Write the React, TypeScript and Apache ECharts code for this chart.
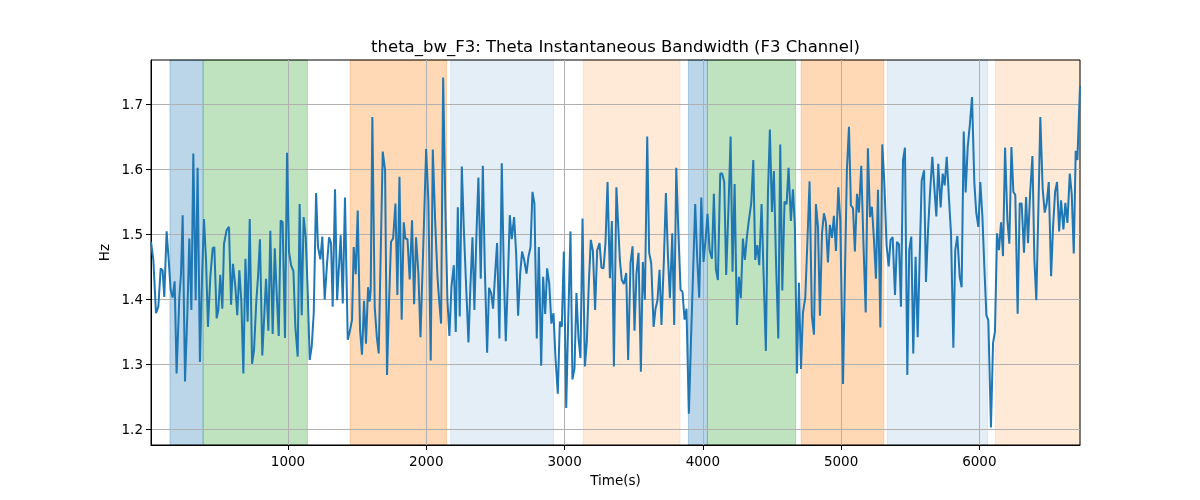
import { useEffect, useRef } from "react";
import * as echarts from "echarts";

// seconds
const times = [
  9, 26, 45, 62, 79, 93, 105, 122, 137, 151, 165, 180, 194, 214, 226, 238, 255, 272, 286, 301,
  315, 332, 346, 363, 378, 392, 407, 421, 438, 455, 467, 484, 496, 510, 525, 537, 556, 573, 588, 602,
  619, 633, 648, 662, 677, 692, 708, 723, 740, 754, 771, 783, 797, 814, 829, 841, 858, 872, 889, 904,
  918, 933, 947, 961, 978, 993, 1007, 1022, 1039, 1053, 1070, 1084, 1099, 1113, 1128, 1142, 1157, 1171, 1186, 1203,
  1217, 1234, 1248, 1265, 1282, 1297, 1311, 1323, 1340, 1355, 1381, 1396, 1412, 1432, 1449, 1463, 1475, 1490, 1504, 1521,
  1535, 1550, 1564, 1579, 1591, 1598, 1610, 1627, 1642, 1656, 1685, 1702, 1716, 1731, 1745, 1760, 1777, 1791, 1806, 1822,
  1837, 1849, 1864, 1880, 1897, 1912, 1926, 1943, 1958, 1979, 1999, 2015, 2032, 2047, 2064, 2081, 2093, 2107, 2122, 2138,
  2153, 2167, 2182, 2199, 2213, 2228, 2242, 2257, 2271, 2286, 2305, 2319, 2334, 2348, 2363, 2377, 2394, 2409, 2423, 2440,
  2454, 2469, 2483, 2498, 2512, 2529, 2546, 2561, 2575, 2590, 2604, 2618, 2635, 2650, 2664, 2679, 2693, 2708, 2725, 2739,
  2754, 2768, 2782, 2799, 2814, 2831, 2845, 2860, 2874, 2889, 2905, 2920, 2934, 2951, 2966, 2980, 2995, 3012, 3026, 3043,
  3057, 3072, 3086, 3101, 3115, 3130, 3147, 3161, 3176, 3190, 3205, 3221, 3236, 3253, 3267, 3282, 3296, 3311, 3328, 3342,
  3357, 3375, 3400, 3414, 3429, 3446, 3460, 3477, 3492, 3506, 3520, 3535, 3552, 3566, 3581, 3598, 3612, 3627, 3644, 3658,
  3672, 3687, 3701, 3718, 3733, 3747, 3762, 3779, 3793, 3808, 3822, 3839, 3853, 3868, 3882, 3899, 3916, 3931, 3945, 3960,
  3974, 3989, 4005, 4020, 4034, 4049, 4066, 4080, 4095, 4109, 4126, 4140, 4155, 4169, 4186, 4201, 4215, 4230, 4247, 4261,
  4275, 4290, 4304, 4319, 4333, 4350, 4365, 4379, 4394, 4408, 4425, 4440, 4456, 4471, 4485, 4500, 4514, 4529, 4546, 4560,
  4575, 4591, 4606, 4620, 4637, 4652, 4666, 4681, 4695, 4710, 4724, 4741, 4755, 4772, 4789, 4804, 4818, 4833, 4847, 4862,
  4876, 4890, 4905, 4919, 4934, 4948, 4963, 4980, 4994, 5014, 5028, 5042, 5057, 5071, 5086, 5100, 5115, 5129, 5146, 5161,
  5178, 5194, 5209, 5223, 5238, 5252, 5267, 5284, 5298, 5313, 5329, 5344, 5358, 5373, 5390, 5404, 5419, 5433, 5448, 5462,
  5479, 5493, 5508, 5522, 5539, 5554, 5568, 5583, 5600, 5614, 5629, 5643, 5660, 5674, 5689, 5703, 5720, 5735, 5749, 5764,
  5781, 5795, 5812, 5826, 5841, 5858, 5872, 5887, 5901, 5916, 5932, 5947, 5964, 5978, 5993, 6007, 6022, 6036, 6051, 6065,
  6084, 6099, 6113, 6128, 6142, 6157, 6171, 6186, 6203, 6217, 6232, 6246, 6260, 6277, 6292, 6306, 6323, 6338, 6352, 6367,
  6384, 6398, 6412, 6427, 6441, 6458, 6473, 6487, 6502, 6519, 6533, 6548, 6562, 6577, 6591, 6608, 6622, 6637, 6654, 6668,
  6683, 6697, 6709, 6728,
];

// instantaneous bandwidth, Hz
const hz = [
  1.488, 1.460, 1.378, 1.388, 1.447, 1.444, 1.403, 1.504, 1.460, 1.414, 1.402, 1.427, 1.285, 1.403, 1.439, 1.529, 1.273, 1.378, 1.493, 1.383,
  1.624, 1.398, 1.602, 1.303, 1.434, 1.523, 1.460, 1.357, 1.434, 1.478, 1.480, 1.370, 1.383, 1.437, 1.385, 1.485, 1.506, 1.511, 1.391, 1.454,
  1.419, 1.375, 1.444, 1.398, 1.285, 1.462, 1.365, 1.523, 1.300, 1.321, 1.398, 1.434, 1.492, 1.313, 1.378, 1.431, 1.351, 1.505, 1.346, 1.478,
  1.409, 1.343, 1.521, 1.518, 1.340, 1.625, 1.473, 1.452, 1.443, 1.357, 1.311, 1.546, 1.375, 1.526, 1.496, 1.414, 1.306, 1.326, 1.378, 1.563,
  1.480, 1.461, 1.496, 1.399, 1.454, 1.495, 1.486, 1.388, 1.569, 1.398, 1.498, 1.393, 1.556, 1.337, 1.352, 1.368, 1.480, 1.438, 1.536, 1.352,
  1.314, 1.397, 1.331, 1.418, 1.396, 1.414, 1.680, 1.388, 1.342, 1.316, 1.627, 1.598, 1.283, 1.398, 1.488, 1.493, 1.547, 1.406, 1.588, 1.368,
  1.518, 1.493, 1.492, 1.430, 1.521, 1.392, 1.495, 1.439, 1.341, 1.486, 1.631, 1.552, 1.305, 1.630, 1.521, 1.434, 1.398, 1.362, 1.741, 1.542,
  1.398, 1.343, 1.419, 1.452, 1.349, 1.541, 1.373, 1.604, 1.511, 1.431, 1.333, 1.419, 1.495, 1.383, 1.501, 1.587, 1.431, 1.605, 1.450, 1.317,
  1.417, 1.409, 1.385, 1.439, 1.486, 1.339, 1.609, 1.439, 1.335, 1.429, 1.529, 1.492, 1.526, 1.470, 1.374, 1.439, 1.473, 1.460, 1.439, 1.465,
  1.480, 1.565, 1.547, 1.339, 1.480, 1.297, 1.434, 1.377, 1.447, 1.424, 1.362, 1.378, 1.311, 1.254, 1.365, 1.357, 1.473, 1.232, 1.362, 1.504,
  1.276, 1.293, 1.409, 1.339, 1.309, 1.524, 1.296, 1.334, 1.427, 1.491, 1.474, 1.383, 1.475, 1.486, 1.448, 1.447, 1.486, 1.580, 1.432, 1.520,
  1.296, 1.572, 1.460, 1.429, 1.423, 1.440, 1.306, 1.455, 1.481, 1.351, 1.439, 1.471, 1.288, 1.457, 1.399, 1.650, 1.471, 1.455, 1.357, 1.385,
  1.398, 1.445, 1.360, 1.457, 1.563, 1.470, 1.401, 1.501, 1.360, 1.602, 1.511, 1.414, 1.411, 1.368, 1.385, 1.223, 1.347, 1.450, 1.546, 1.460,
  1.402, 1.556, 1.457, 1.491, 1.531, 1.475, 1.462, 1.562, 1.445, 1.429, 1.593, 1.593, 1.580, 1.437, 1.542, 1.650, 1.442, 1.577, 1.360, 1.434,
  1.401, 1.493, 1.460, 1.496, 1.521, 1.547, 1.614, 1.460, 1.483, 1.452, 1.546, 1.434, 1.320, 1.562, 1.661, 1.534, 1.597, 1.460, 1.339, 1.638,
  1.413, 1.550, 1.546, 1.602, 1.520, 1.569, 1.511, 1.285, 1.425, 1.292, 1.378, 1.402, 1.480, 1.581, 1.373, 1.345, 1.546, 1.511, 1.374, 1.501,
  1.532, 1.518, 1.456, 1.514, 1.494, 1.528, 1.474, 1.572, 1.521, 1.269, 1.439, 1.598, 1.665, 1.544, 1.540, 1.473, 1.562, 1.533, 1.605, 1.491,
  1.379, 1.632, 1.526, 1.542, 1.491, 1.431, 1.568, 1.356, 1.638, 1.578, 1.483, 1.450, 1.491, 1.495, 1.406, 1.488, 1.484, 1.388, 1.614, 1.633,
  1.283, 1.476, 1.496, 1.316, 1.465, 1.341, 1.460, 1.582, 1.598, 1.426, 1.506, 1.562, 1.619, 1.573, 1.527, 1.608, 1.541, 1.593, 1.575, 1.619,
  1.552, 1.501, 1.325, 1.475, 1.497, 1.434, 1.418, 1.658, 1.564, 1.634, 1.670, 1.711, 1.578, 1.532, 1.511, 1.580, 1.527, 1.450, 1.375, 1.367,
  1.202, 1.332, 1.350, 1.501, 1.475, 1.518, 1.466, 1.633, 1.521, 1.485, 1.634, 1.565, 1.560, 1.377, 1.547, 1.547, 1.471, 1.557, 1.486, 1.562,
  1.620, 1.460, 1.398, 1.537, 1.680, 1.570, 1.533, 1.547, 1.580, 1.435, 1.511, 1.565, 1.580, 1.504, 1.552, 1.507, 1.548, 1.517, 1.593, 1.562,
  1.470, 1.628, 1.614, 1.728,
];

// shaded phases
const bandStarts = [146, 386, 1449, 2177, 3135, 3896, 4033, 4712, 5335, 6116];
const bandEnds = [386, 1140, 2146, 2920, 3835, 4033, 4671, 5309, 6060, 6728];
const bandKinds = ["blue", "green", "orange", "paleBlue", "paleOrange", "blue", "green", "orange", "paleBlue", "paleOrange"];

const xTicks = [1000, 2000, 3000, 4000, 5000, 6000];
const yTicks = [1.2, 1.3, 1.4, 1.5, 1.6, 1.7];

const bandFill: Record<string, string> = {
  blue: "rgba(31,119,180,0.3)",
  green: "rgba(44,160,44,0.3)",
  orange: "rgba(255,127,14,0.3)",
  paleBlue: "rgba(31,119,180,0.12)",
  paleOrange: "rgba(255,127,14,0.16)",
};

const FONT = "DejaVu Sans";

export default function App() {
  const ref = useRef<HTMLDivElement | null>(null);

  useEffect(() => {
    const el = ref.current!;
    const chart = echarts.init(el, undefined, { renderer: "svg" });

    const axisCommon = {
      axisLine: { show: true, lineStyle: { color: "#000", width: 1 } },
      axisTick: { show: true, inside: false, length: 5, lineStyle: { color: "#000", width: 1 } },
      splitLine: { show: true, lineStyle: { color: "#b0b0b0", width: 1 } },
      nameTextStyle: { color: "#000", fontFamily: FONT, fontSize: 13.5 },
    };

    chart.setOption({
      animation: false,
      textStyle: { fontFamily: FONT },
      grid: { left: 151, right: 120, top: 60, bottom: 55, show: true, borderColor: "#000", borderWidth: 1 },
      graphic: [{
        type: "text",
        x: 615.5,
        y: 46,
        style: {
          text: "theta_bw_F3: Theta Instantaneous Bandwidth (F3 Channel)",
          align: "center",
          verticalAlign: "middle",
          fontFamily: FONT,
          fontSize: 16.5,
          fill: "#000",
        },
      }],
      xAxis: {
        ...axisCommon,
        type: "value",
        min: times[0],
        max: times[times.length - 1],
        name: "Time(s)",
        nameLocation: "middle",
        nameGap: 28,
        axisTick: { ...axisCommon.axisTick, customValues: xTicks },
        axisLabel: {
          customValues: xTicks,
          color: "#000", fontFamily: FONT, fontSize: 13.5, margin: 9,
          formatter: (v: number) => String(v),
        },
      },
      yAxis: {
        ...axisCommon,
        type: "value",
        min: 1.175,
        max: 1.768,
        name: "Hz",
        nameLocation: "middle",
        nameRotate: 90,
        nameGap: 40,
        axisTick: { ...axisCommon.axisTick, customValues: yTicks },
        axisLabel: {
          customValues: yTicks,
          color: "#000", fontFamily: FONT, fontSize: 13.5, margin: 8,
          formatter: (v: number) => v.toFixed(1),
        },
      },
      series: [
        {
          type: "line",
          data: [],
          z: -1,
          silent: true,
          markArea: {
            silent: true,
            z: -1,
            data: bandStarts.map((s, i) => [
              { xAxis: s, itemStyle: { color: bandFill[bandKinds[i]], borderColor: bandFill[bandKinds[i]], borderWidth: 1 } },
              { xAxis: bandEnds[i] },
            ]),
          },
        },
        {
          type: "line",
          data: times.map((t, i) => [t, hz[i]]),
          showSymbol: false,
          symbol: "none",
          z: 3,
          lineStyle: { color: "#1f77b4", width: 2 },
        },
      ],
    });

    return () => chart.dispose();
  }, []);

  return <div ref={ref} style={{ position: "fixed", left: 0, top: 0, width: 1200, height: 500 }} />;
}
